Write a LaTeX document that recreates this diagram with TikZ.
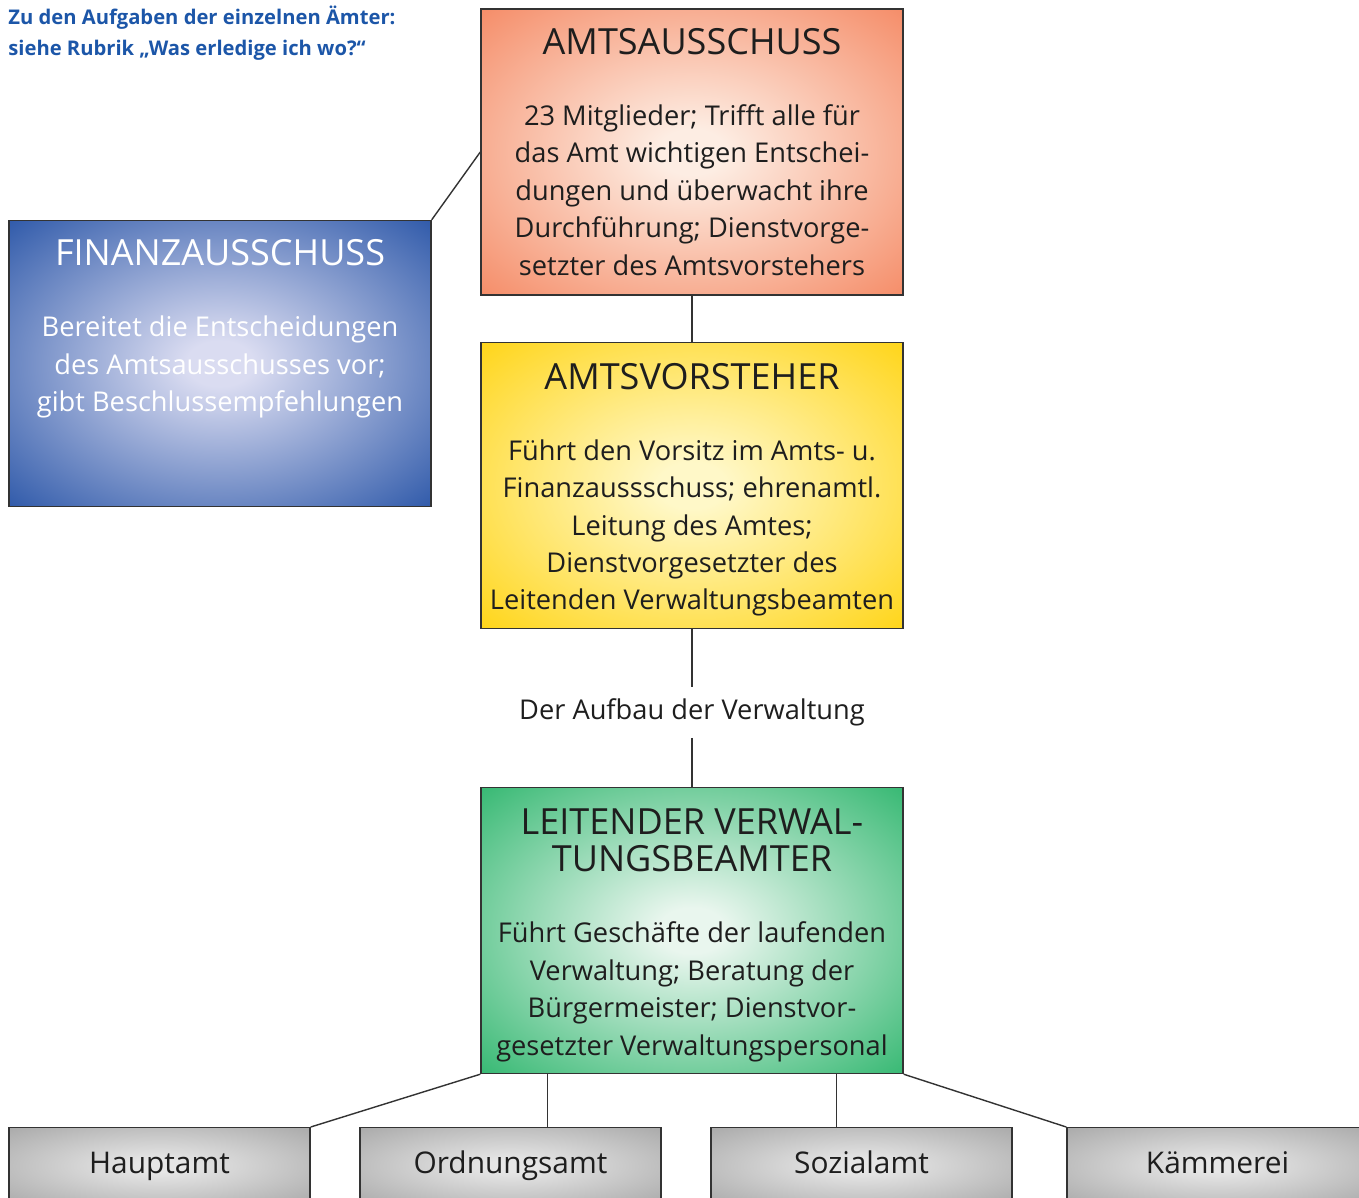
\documentclass[tikz,border=0pt]{standalone}
\usepackage{fontspec}
\setmainfont{Open Sans}
\usetikzlibrary{positioning}

\definecolor{linegray}{HTML}{333333}
\definecolor{notblue}{HTML}{1C56A8}
\definecolor{txtblack}{HTML}{1E1E1E}
\definecolor{lachsout}{HTML}{F47F57}
\definecolor{lachsin}{HTML}{FDEDE3}
\definecolor{gelbout}{HTML}{FFD000}
\definecolor{gelbin}{HTML}{FFF8C8}
\definecolor{gruenout}{HTML}{1EB062}
\definecolor{gruenin}{HTML}{E9F6EE}
\definecolor{blauout}{HTML}{1848A0}
\definecolor{blauin}{HTML}{DADCF1}
\definecolor{grauout}{HTML}{A2A2A2}
\definecolor{grauin}{HTML}{E6E6E6}
\colorlet{glowin}{white}
\colorlet{glowout}{gray}
\pgfdeclareradialshading[glowin,glowout]{glow}{\pgfpointorigin}{color(0bp)=(glowin); color(4bp)=(glowin); color(40bp)=(glowout); color(71bp)=(glowout)}

\newcommand{\ttlfont}{\fontsize{20.5}{21.3}\selectfont}
\newcommand{\bodyfont}{\fontsize{15.5}{21.3}\selectfont}

\tikzset{
  glowbox/.style 2 args={draw=linegray, line width=0.8pt, shading=glow,
    /utils/exec={\colorlet{glowin}{#1}\colorlet{glowout}{#2}},
    minimum width=8.44cm, minimum height=5.72cm, inner sep=0pt,
    align=center, font=\bodyfont, text=txtblack},
  amtbox/.style={draw=linegray, line width=0.8pt, shading=glow,
    /utils/exec={\colorlet{glowin}{grauin}\colorlet{glowout}{grauout}},
    minimum width=6.02cm, minimum height=1.52cm, inner sep=0pt,
    text height=13pt, text depth=4pt,
    font=\fontsize{17}{20}\selectfont, text=txtblack, anchor=north},
  link/.style={draw=linegray, line width=0.8pt}
}

\begin{document}
\begin{tikzpicture}
  \clip (0,0) rectangle (27.18,-23.96);

  % Hinweis oben links
  \node (hinweis) [anchor=north west, inner sep=0pt, align=left, text=notblue,
    font=\fontsize{11.5}{17.6}\selectfont\bfseries] at (0.16,-0.12)
    {Zu den Aufgaben der einzelnen Ämter:\\siehe Rubrik „Was erledige ich wo?“};

  % Gremien
  \node (ausschuss) [glowbox={lachsin}{lachsout}] at (13.84,-3.04)
    {{\ttlfont AMTSAUSSCHUSS}\\[19pt]
     23 Mitglieder; Trifft alle für\\ das Amt wichtigen Entschei-\\
     dungen und überwacht ihre\\ Durchführung; Dienstvorge-\\
     setzter des Amtsvorstehers};
  \node (vorsteher) [glowbox={gelbin}{gelbout}, below=0.92cm of ausschuss]
    {{\ttlfont\rule{0pt}{20pt}AMTSVORSTEHER}\\[19pt]
     Führt den Vorsitz im Amts- u.\\ Finanzaussschuss; ehrenamtl.\\
     Leitung des Amtes;\\ Dienstvorgesetzter des\\
     Leitenden Verwaltungsbeamten};
  \node (finanz) [glowbox={blauin}{blauout}, text=white] at (4.40,-7.27)
    {{\ttlfont FINANZAUSSCHUSS}\\[19pt]
     Bereitet die Entscheidungen\\ des Amtsausschusses vor;\\
     gibt Beschlussempfehlungen\\[15.5pt] \strut};

  \node (aufbau) [below=1.16cm of vorsteher, minimum height=1cm, inner sep=0pt,
    font=\bodyfont, text=txtblack] {Der Aufbau der Verwaltung};

  \node (leitend) [glowbox={gruenin}{gruenout}, below=0.98cm of aufbau]
    {{\ttlfont\rule{0pt}{20pt}LEITENDER VERWAL-}\\ {\ttlfont TUNGSBEAMTER}\\[19pt]
     Führt Geschäfte der laufenden\\ Verwaltung; Beratung der\\
     Bürgermeister; Dienstvor-\\ gesetzter Verwaltungspersonal};

  % Aemter
  \node (haupt) [amtbox] at (3.19,-22.54) {Hauptamt};
  \node (ordnung) [amtbox] at (10.21,-22.54) {Ordnungsamt};
  \node (sozial) [amtbox] at (17.23,-22.54) {Sozialamt};
  \node (kaemmerei) [amtbox] at (24.35,-22.54) {Kämmerei};

  \draw [link] (finanz.north east) -- (ausschuss.west);
  \draw [link] (ausschuss) -- (vorsteher);
  \draw [link] (vorsteher) -- (aufbau);
  \draw [link] (aufbau) -- (leitend);
  \draw [link] (leitend.south west) -- (haupt.north east);
  \draw [link] ([xshift=1.34cm]leitend.south west) -- ([xshift=1.34cm]leitend.south west |- ordnung.north);
  \draw [link] ([xshift=-1.34cm]leitend.south east) -- ([xshift=-1.34cm]leitend.south east |- sozial.north);
  \draw [link] (leitend.south east) -- (kaemmerei.north west);
\end{tikzpicture}
\end{document}
